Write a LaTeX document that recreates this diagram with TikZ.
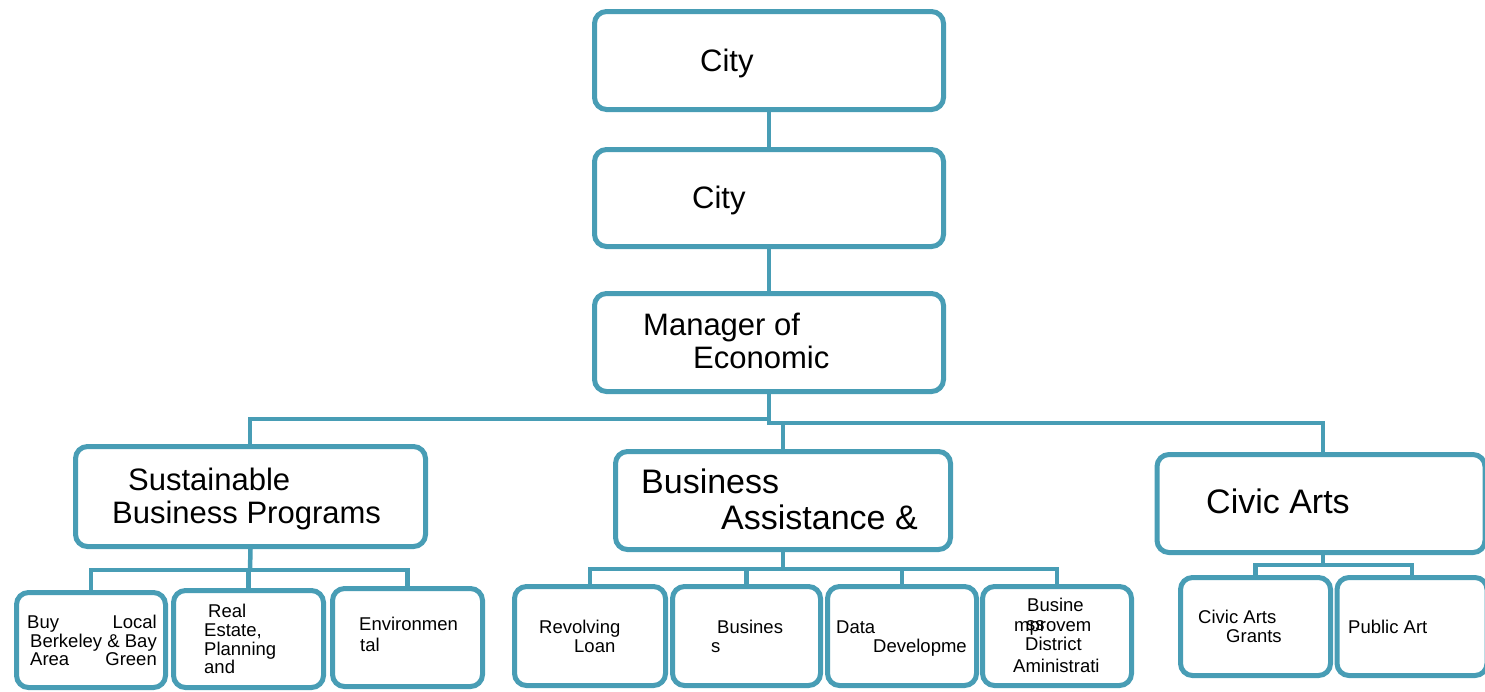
\documentclass[tikz,border=0pt]{standalone}
\usepackage{fontspec}
\setmainfont{Liberation Sans}
\definecolor{orgline}{RGB}{72,157,181}

\begin{document}
\begin{tikzpicture}[x=1pt,y=-1pt,
  orgbox/.style={draw=orgline, line width=5pt, rounded corners=12pt, fill=white, inner sep=0pt},
  conn/.style={draw=orgline, line width=4.5pt},
  bigtxt/.style={anchor=base west, inner sep=0pt, font=\fontsize{31}{37}\selectfont},
  midtxt/.style={anchor=base west, inner sep=0pt, font=\fontsize{34}{40}\selectfont},
  smalltxt/.style={anchor=base west, inner sep=0pt, font=\fontsize{18.5}{22}\selectfont},
  smallright/.style={smalltxt, anchor=base east}]
  \useasboundingbox (0,0) rectangle (1485,691);

  %% Top of the chart
  \node[orgbox, minimum width=349pt, minimum height=98pt] (city) at (769,60.5) {};
  \node[orgbox, minimum width=349pt, minimum height=97pt] (citymgr) at (769,198) {};
  \node[orgbox, minimum width=349pt, minimum height=98pt] (econmgr) at (769,342.5) {};
  \node[bigtxt] (citytxt) at (700,71) {City};
  \node[bigtxt] (citymgrtxt) at (692,208) {City};
  \node[bigtxt] (econtxta) at (643,335) {Manager of};
  \node[bigtxt] (econtxtb) at (693,368) {Economic};

  %% Divisions
  \node[orgbox, minimum width=350pt, minimum height=100pt] (sustain) at (250.5,496.5) {};
  \node[orgbox, minimum width=335pt, minimum height=98pt] (bizassist) at (783,500.5) {};
  \node[orgbox, minimum width=328pt, minimum height=98pt] (civic) at (1321,503.5) {};
  \node[bigtxt] (sustaintxta) at (128,490) {Sustainable};
  \node[bigtxt] (sustaintxtb) at (112,523) {Business Programs};
  \node[midtxt] (bizassisttxta) at (641,493) {Business};
  \node[midtxt] (bizassisttxtb) at (721,529) {Assistance \&};
  \node[midtxt] (civictxt) at (1206,513) {Civic Arts};

  %% Programs
  \node[orgbox, minimum width=149pt, minimum height=95pt] (buylocal) at (91,640) {};
  \node[orgbox, minimum width=150pt, minimum height=97pt] (realest) at (248.5,639) {};
  \node[orgbox, minimum width=150pt, minimum height=98pt] (envir) at (407.5,637.5) {};
  \node[orgbox, minimum width=151pt, minimum height=99pt] (revloan) at (590,636) {};
  \node[orgbox, minimum width=148pt, minimum height=99pt] (busn) at (746.5,636) {};
  \node[orgbox, minimum width=149pt, minimum height=99pt] (datadev) at (902,636) {};
  \node[orgbox, minimum width=149pt, minimum height=99pt] (bizimp) at (1057,636) {};
  \node[orgbox, minimum width=150pt, minimum height=98pt] (artgrant) at (1255.5,626.5) {};
  \node[orgbox, minimum width=150pt, minimum height=98pt] (pubart) at (1412,626.5) {};

  \node[smalltxt] (buytxta) at (27,628) {Buy};
  \node[smallright] (buytxtb) at (157,628) {Local};
  \node[smalltxt] (buytxtc) at (30,647) {Berkeley};
  \node[smallright] (buytxtd) at (157,647) {\& Bay};
  \node[smalltxt] (buytxte) at (30,665) {Area};
  \node[smallright] (buytxtf) at (157,665) {Green};
  \node[smalltxt] (realtxta) at (208,617) {Real};
  \node[smalltxt] (realtxtb) at (204,636) {Estate,};
  \node[smalltxt] (realtxtc) at (204,655) {Planning};
  \node[smalltxt] (realtxtd) at (204,673) {and};
  \node[smalltxt] (envtxta) at (359,630) {Environmen};
  \node[smalltxt] (envtxtb) at (360,651) {tal};
  \node[smalltxt] (loantxta) at (539,633) {Revolving};
  \node[smalltxt] (loantxtb) at (574,652) {Loan};
  \node[smalltxt] (busntxta) at (717,633) {Busines};
  \node[smalltxt] (busntxtb) at (711,652) {s};
  \node[smalltxt] (datatxta) at (836,633) {Data};
  \node[smalltxt] (datatxtb) at (873,652) {Developme};
  \node[smalltxt] (biztxta) at (1027,611) {Busine};
  \node[smalltxt] (biztxtb) at (1014,631) {mprovem};
  \node[smalltxt] (biztxtc) at (1026,630) {ss};
  \node[smalltxt] (biztxtd) at (1025,650) {District};
  \node[smalltxt] (biztxte) at (1013,672) {Aministrati};
  \node[smalltxt] (granttxta) at (1198,623) {Civic Arts};
  \node[smalltxt] (granttxtb) at (1226,642) {Grants};
  \node[smalltxt] (pubtxt) at (1348,633) {Public Art};

  %% Connectors
  \coordinate (busL) at (250,419);
  \coordinate (busR) at (1323,423);
  \coordinate (sustainbus) at (250,570);
  \coordinate (assistbus) at (783,569);
  \coordinate (civicbus) at (1323,565);

  \draw[conn] (city.south) -- (citymgr.north);
  \draw[conn] (citymgr.south) -- (econmgr.north);
  \draw[conn] (econmgr.south) |- (busL) -- (busL |- sustain.north);
  \draw[conn] (econmgr.south) |- (busR) -- (busR |- civic.north);
  \draw[conn] (bizassist.north) -- (bizassist.north |- busR);

  \draw[conn] (sustain.south) -- (sustainbus);
  \draw[conn] (buylocal.north) |- (sustainbus) -| (envir.north);
  \draw[conn] (realest.north) -- (realest.north |- sustainbus);
  \draw[conn] (bizassist.south) -- (assistbus);
  \draw[conn] (revloan.north) |- (assistbus) -| (bizimp.north);
  \draw[conn] (busn.north) -- (busn.north |- assistbus);
  \draw[conn] (datadev.north) -- (datadev.north |- assistbus);
  \draw[conn] (civicbus |- civic.south) -- (civicbus);
  \draw[conn] (artgrant.north) |- (civicbus) -| (pubart.north);
\end{tikzpicture}
\end{document}
